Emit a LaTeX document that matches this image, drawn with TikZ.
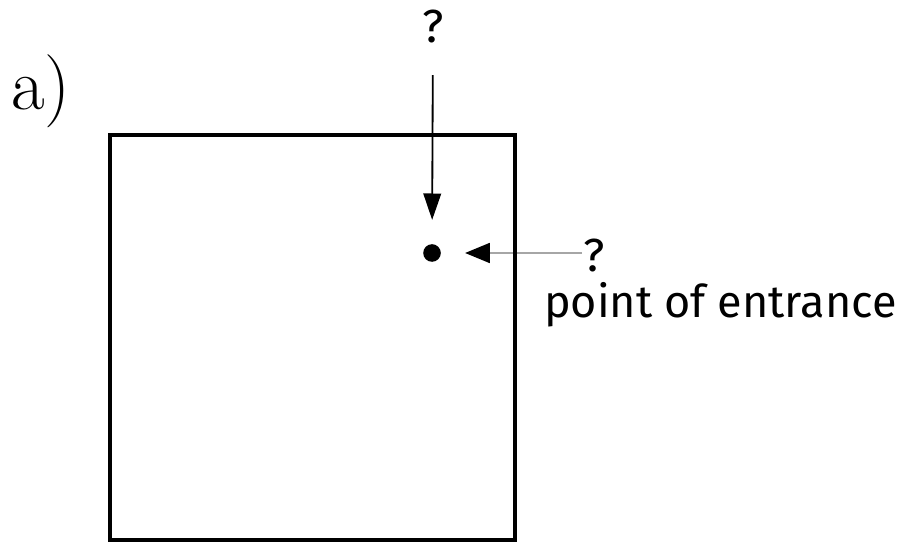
\documentclass[tikz,border=0pt]{standalone}
\usepackage{fontspec}
\newfontfamily\labelfont{Fira Sans}
\usetikzlibrary{positioning, arrows.meta}

\begin{document}
\begin{tikzpicture}[
  x=0.025cm, y=-0.025cm,
  box/.style={draw=black, line width=2.6pt},
  label/.style={font=\labelfont\fontsize{33}{38}\selectfont, inner sep=1pt},
  probe/.style={line width=1.3pt, shorten >=0.6cm,
    -{Triangle[length=0.66cm, width=0.44cm, color=black]}},
  entry/.style={circle, fill=black, minimum size=0.44cm, inner sep=0pt}
]
\useasboundingbox (0,0) rectangle (906,543);

% === ETICHETTA ===
\node[font=\fontsize{52}{56}\selectfont] (tag) at (41,91) {a)};

% === PUNTO E DOMANDE ===
\node[entry] (punto) at (432,253) {};
\node[label] (domandaAlto) at (433,27) {?};
\node[label, anchor=west] (domandaDestra) at (582,256) {?};
\node[label, font=\labelfont\fontsize{32}{37}\selectfont, below=0.15cm of domandaDestra, xshift=3.15cm] (ingresso) {point of entrance};

% === FRECCE ===
\draw[probe, shorten <=0.75cm] (domandaAlto) -- (punto);
\draw[probe, draw=gray!70, -{Triangle[length=0.62cm, width=0.5cm, color=black]}] (domandaDestra.west |- punto) -- (punto);

% === QUADRATO ===
\draw[box] (110,135) rectangle (515,540);

\end{tikzpicture}
\end{document}
